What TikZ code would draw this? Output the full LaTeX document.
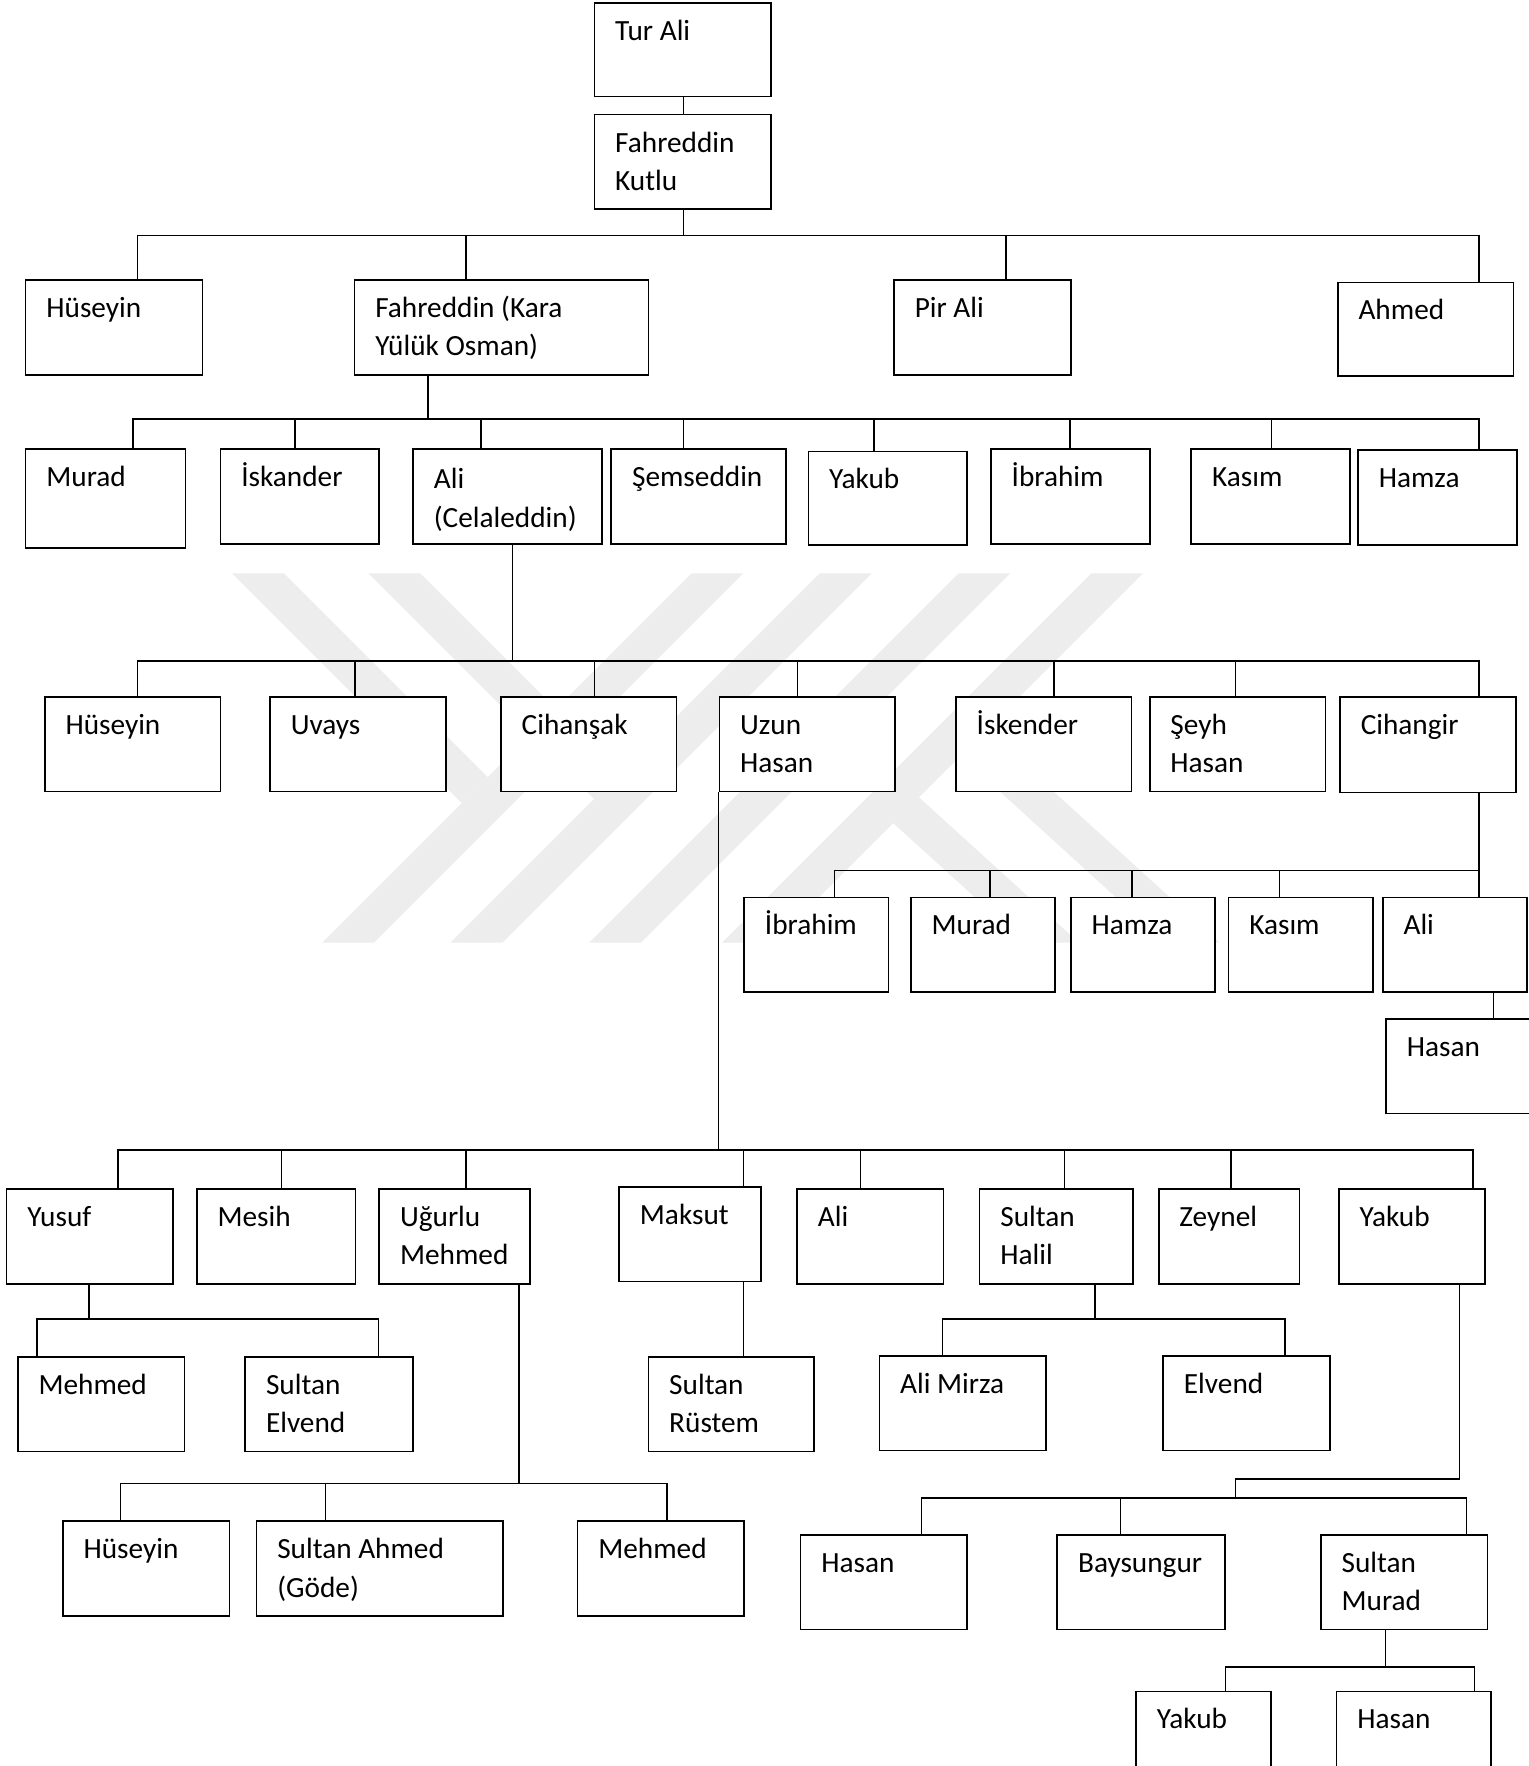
\documentclass[tikz,border=0pt]{standalone}
\usepackage{fontspec}
\setmainfont{Carlito}
\usepackage{tikz}
\usetikzlibrary{positioning}
\definecolor{filigran}{RGB}{237,237,237}

\begin{document}
\begin{tikzpicture}[x=1pt, y=-1pt,
    kutu/.style={draw, fill=white, line width=1.5pt, anchor=north west, inner sep=0pt, minimum height=84pt},
    yazi/.style={anchor=base west, xshift=19pt, yshift=-34pt, inner sep=0pt, align=left, font=\fontsize{26}{34}\selectfont},
    yazi2/.style={yazi, yshift=-34pt},
    bag/.style={line width=1.4pt}]
    \useasboundingbox (0,0) rectangle (1357,1568);

    % watermark
    \fill[filigran] (614,509) -- (660,509) -- (332,837) -- (286,837) -- cycle;
    \fill[filigran] (728,509) -- (774,509) -- (446,837) -- (400,837) -- cycle;
    \fill[filigran] (851,509) -- (897,509) -- (569,837) -- (523,837) -- cycle;
    \fill[filigran] (969,509) -- (1015,509) -- (687,837) -- (641,837) -- cycle;
    \fill[filigran] (206,509) -- (252,509) -- (433,690) -- (410,713) -- cycle;
    \fill[filigran] (327,509) -- (373,509) -- (550.5,686.5) -- (527.5,709.5) -- cycle;
    \fill[filigran] (816,708) -- (958,837) -- (910,837) -- (793.1,730.9) -- cycle;
    \fill[filigran] (875.7,648.3) -- (1083,837) -- (1035,837) -- (852.9,671.1) -- cycle;

    % kusak 0-1
    \node[kutu, minimum width=157pt, minimum height=83pt, label={[yazi]north west:Tur Ali}] (turali) at (527,2) {};
    \node[kutu, minimum width=157pt, label={[yazi2]north west:Fahreddin\\Kutlu}] (kutlu) at (527,101) {};
    \node[kutu, minimum width=157pt, label={[yazi]north west:Hüseyin}] (huseyin1) at (22,248) {};
    \node[kutu, minimum width=261pt, label={[yazi2]north west:Fahreddin (Kara\\Yülük Osman)}] (osman) at (314,248) {};
    \node[kutu, minimum width=157pt, label={[yazi]north west:Pir Ali}] (pirali) at (793,248) {};
    \node[kutu, minimum width=156pt, minimum height=83pt, label={[yazi]north west:Ahmed}] (ahmed) at (1187,250) {};

    % kusak 2
    \node[kutu, minimum width=142pt, minimum height=88pt, label={[yazi]north west:Murad}] (murad1) at (22,398) {};
    \node[kutu, minimum width=141pt, label={[yazi]north west:İskander}] (iskender1) at (195,398) {};
    \node[kutu, minimum width=168pt, label={[yazi2, yshift=-2pt]north west:Ali\\(Celaleddin)}] (ali1) at (366,398) {};
    \node[kutu, minimum width=155pt, label={[yazi]north west:Şemseddin}] (semseddin) at (542,398) {};
    \node[kutu, minimum width=141pt, minimum height=83pt, label={[yazi]north west:Yakub}] (yakub1) at (717,400) {};
    \node[kutu, minimum width=141pt, label={[yazi]north west:İbrahim}] (ibrahim1) at (879,398) {};
    \node[kutu, minimum width=141pt, label={[yazi]north west:Kasım}] (kasim1) at (1057,398) {};
    \node[kutu, minimum width=141pt, label={[yazi]north west:Hamza}] (hamza1) at (1205,399) {};

    % kusak 3
    \node[kutu, minimum width=156pt, label={[yazi]north west:Hüseyin}] (huseyin2) at (39,618) {};
    \node[kutu, minimum width=156pt, label={[yazi]north west:Uvays}] (uvays) at (239,618) {};
    \node[kutu, minimum width=156pt, label={[yazi]north west:Cihanşak}] (cihansak) at (444,618) {};
    \node[kutu, minimum width=156pt, label={[yazi2]north west:Uzun\\Hasan}] (uzunhasan) at (638,618) {};
    \node[kutu, minimum width=156pt, label={[yazi]north west:İskender}] (iskender2) at (848,618) {};
    \node[kutu, minimum width=156pt, label={[yazi2]north west:Şeyh\\Hasan}] (seyhhasan) at (1020,618) {};
    \node[kutu, minimum width=156pt, minimum height=85pt, label={[yazi]north west:Cihangir}] (cihangir) at (1189,618) {};

    % Cihangir'in ogullari
    \node[kutu, minimum width=128pt, label={[yazi]north west:İbrahim}] (ibrahim2) at (660,796) {};
    \node[kutu, minimum width=128pt, label={[yazi]north west:Murad}] (murad2) at (808,796) {};
    \node[kutu, minimum width=128pt, label={[yazi]north west:Hamza}] (hamza2) at (950,796) {};
    \node[kutu, minimum width=128pt, label={[yazi]north west:Kasım}] (kasim2) at (1090,796) {};
    \node[kutu, minimum width=128pt, label={[yazi]north west:Ali}] (ali2) at (1227,796) {};
    \node[kutu, minimum width=140pt, label={[yazi]north west:Hasan}] (hasan1) at (1230,904) {};

    % Uzun Hasan'in ogullari
    \node[kutu, minimum width=148pt, label={[yazi]north west:Yusuf}] (yusuf) at (5,1055) {};
    \node[kutu, minimum width=141pt, label={[yazi]north west:Mesih}] (mesih) at (174,1055) {};
    \node[kutu, minimum width=134pt, label={[yazi2]north west:Uğurlu\\Mehmed}] (ugurlu) at (336,1055) {};
    \node[kutu, minimum width=126pt, label={[yazi]north west:Maksut}] (maksut) at (549,1053) {};
    \node[kutu, minimum width=130pt, label={[yazi]north west:Ali}] (ali3) at (707,1055) {};
    \node[kutu, minimum width=136pt, label={[yazi2]north west:Sultan\\Halil}] (halil) at (869,1055) {};
    \node[kutu, minimum width=125pt, label={[yazi]north west:Zeynel}] (zeynel) at (1028,1055) {};
    \node[kutu, minimum width=130pt, label={[yazi]north west:Yakub}] (yakub2) at (1188,1055) {};

    % torunlar
    \node[kutu, minimum width=148pt, label={[yazi]north west:Mehmed}] (mehmed1) at (15,1204) {};
    \node[kutu, minimum width=149pt, label={[yazi2]north west:Sultan\\Elvend}] (elvend1) at (217,1204) {};
    \node[kutu, minimum width=147pt, label={[yazi2]north west:Sultan\\Rüstem}] (rustem) at (575,1204) {};
    \node[kutu, minimum width=148pt, label={[yazi]north west:Ali Mirza}] (alimirza) at (780,1203) {};
    \node[kutu, minimum width=148pt, label={[yazi]north west:Elvend}] (elvend2) at (1032,1203) {};
    \node[kutu, minimum width=148pt, label={[yazi]north west:Hüseyin}] (huseyin3) at (55,1350) {};
    \node[kutu, minimum width=219pt, label={[yazi2]north west:Sultan Ahmed\\(Göde)}] (ahmedgode) at (227,1350) {};
    \node[kutu, minimum width=148pt, label={[yazi]north west:Mehmed}] (mehmed2) at (512,1350) {};
    \node[kutu, minimum width=148pt, label={[yazi]north west:Hasan}] (hasan2) at (710,1362) {};
    \node[kutu, minimum width=149pt, label={[yazi]north west:Baysungur}] (baysungur) at (938,1362) {};
    \node[kutu, minimum width=148pt, label={[yazi2]north west:Sultan\\Murad}] (sultanmurad) at (1172,1362) {};
    \node[kutu, minimum width=120pt, minimum height=100pt, label={[yazi]north west:Yakub}] (yakub3) at (1008,1501) {};
    \node[kutu, minimum width=137pt, minimum height=100pt, label={[yazi]north west:Hasan}] (hasan3) at (1186,1501) {};

    % baglantilar
    \draw[bag] (turali.south -| 607,0) -- (kutlu.north -| 607,0);

    \coordinate (bus1) at (607,209);
    \draw[bag] (kutlu.south -| bus1) -- (bus1);
    \draw[bag] (huseyin1.north -| 122,0) |- (bus1) -| (ahmed.north -| 1313,0);
    \draw[bag] (osman.north -| 414,0) |- (bus1);
    \draw[bag] (pirali.north -| 893,0) |- (bus1);

    \coordinate (bus2) at (380,372);
    \draw[bag] (osman.south -| bus2) -- (bus2);
    \draw[bag] (murad1.north -| 118,0) |- (bus2) -| (hamza1.north -| 1313,0);
    \draw[bag] (iskender1.north -| 262,0) |- (bus2);
    \draw[bag] (ali1.north -| 427,0) |- (bus2);
    \draw[bag] (semseddin.north -| 607,0) |- (bus2);
    \draw[bag] (yakub1.north -| 776,0) |- (bus2);
    \draw[bag] (ibrahim1.north -| 950,0) |- (bus2);
    \draw[bag] (kasim1.north -| 1129,0) |- (bus2);

    \coordinate (bus3) at (455,587);
    \draw[bag] (ali1.south -| bus3) -- (bus3);
    \draw[bag] (huseyin2.north -| 122,0) |- (bus3) -| (cihangir.north -| 1313,0);
    \draw[bag] (uvays.north -| 315,0) |- (bus3);
    \draw[bag] (cihansak.north -| 528,0) |- (bus3);
    \draw[bag] (uzunhasan.north -| 708,0) |- (bus3);
    \draw[bag] (iskender2.north -| 936,0) |- (bus3);
    \draw[bag] (seyhhasan.north -| 1097,0) |- (bus3);

    \coordinate (bus4) at (1313,773);
    \draw[bag] (cihangir.south -| bus4) -- (bus4) -- (ali2.north -| bus4);
    \draw[bag] (ibrahim2.north -| 741,0) |- (bus4);
    \draw[bag] (murad2.north -| 879,0) |- (bus4);
    \draw[bag] (hamza2.north -| 1005,0) |- (bus4);
    \draw[bag] (kasim2.north -| 1136,0) |- (bus4);
    \draw[bag] (ali2.south -| 1326,0) -- (hasan1.north -| 1326,0);

    \coordinate (bus5) at (638,1021);
    \draw[bag] (uzunhasan.south west) -- (bus5);
    \draw[bag] (yusuf.north -| 105,0) |- (bus5) -| (yakub2.north -| 1308,0);
    \draw[bag] (mesih.north -| 250,0) |- (bus5);
    \draw[bag] (ugurlu.north -| 414,0) |- (bus5);
    \draw[bag] (maksut.north -| 660,0) |- (bus5);
    \draw[bag] (ali3.north -| 764,0) |- (bus5);
    \draw[bag] (halil.north -| 945,0) |- (bus5);
    \draw[bag] (zeynel.north -| 1093,0) |- (bus5);

    \coordinate (bus6) at (79,1171);
    \draw[bag] (yusuf.south -| bus6) -- (bus6);
    \draw[bag] (mehmed1.north -| 33,0) |- (bus6) -| (elvend1.north -| 336,0);

    \coordinate (bus7) at (461,1317);
    \draw[bag] (ugurlu.south -| bus7) -- (bus7);
    \draw[bag] (huseyin3.north -| 107,0) |- (bus7) -| (mehmed2.north -| 592,0);
    \draw[bag] (ahmedgode.north -| 289,0) |- (bus7);

    \draw[bag] (maksut.south -| 660,0) -- (rustem.north -| 660,0);

    \coordinate (bus9) at (972,1171);
    \draw[bag] (halil.south -| bus9) -- (bus9);
    \draw[bag] (alimirza.north -| 837,0) |- (bus9) -| (elvend2.north -| 1141,0);

    \coordinate (bus10) at (1097,1330);
    \draw[bag] (yakub2.south -| 1296,0) -- (1296,1313) -| (bus10);
    \draw[bag] (hasan2.north -| 818,0) |- (bus10) -| (sultanmurad.north -| 1302,0);
    \draw[bag] (baysungur.north -| 995,0) |- (bus10);

    \coordinate (bus11) at (1230,1480);
    \draw[bag] (sultanmurad.south -| bus11) -- (bus11);
    \draw[bag] (yakub3.north -| 1088,0) |- (bus11) -| (hasan3.north -| 1309,0);
\end{tikzpicture}
\end{document}
